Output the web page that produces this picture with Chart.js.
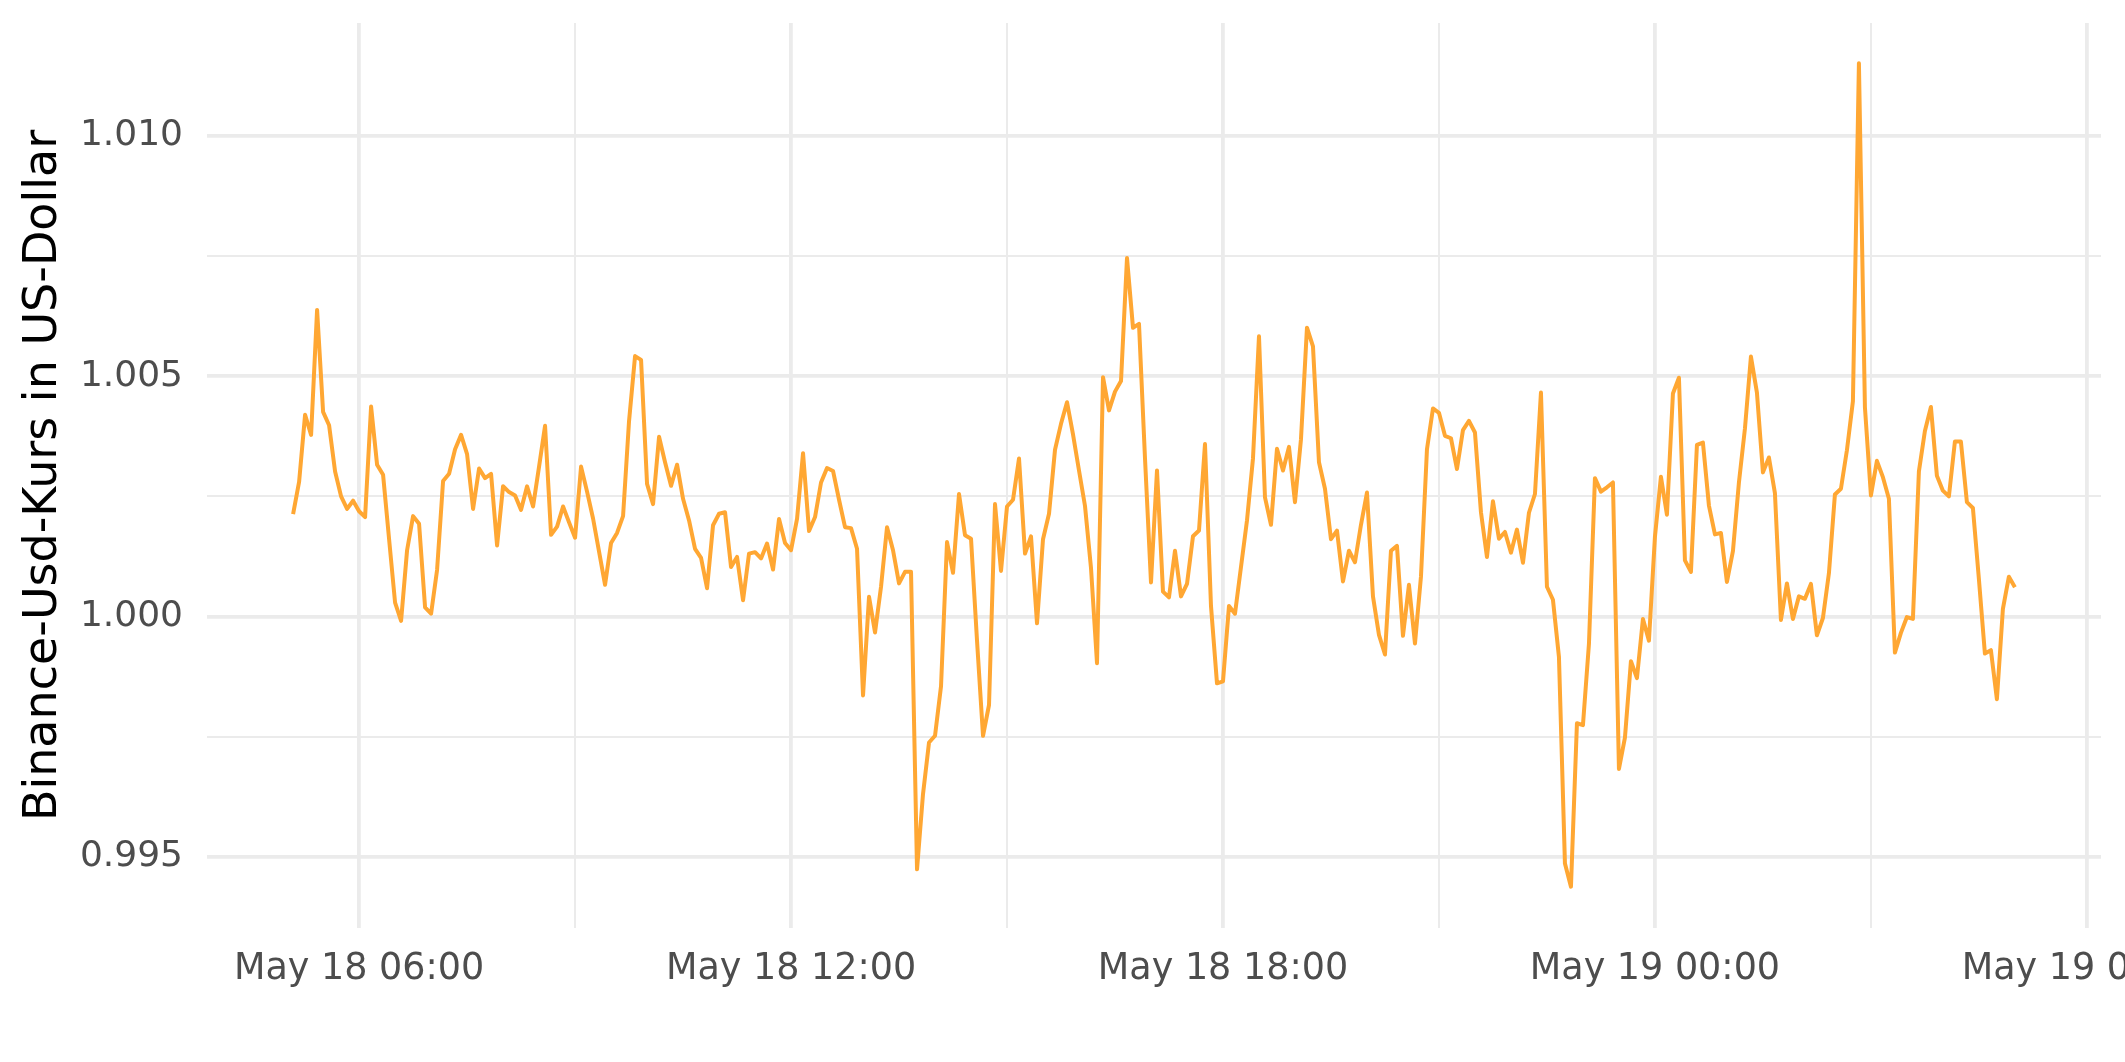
<!DOCTYPE html>
<html><head><meta charset="utf-8">
<script src="https://cdn.jsdelivr.net/npm/chart.js@4.4.0/dist/chart.umd.min.js"></script>
<style>html,body{margin:0;padding:0;background:#fff;}canvas{display:block;}</style>
</head><body>
<canvas id="c" width="2125" height="1062"></canvas>
<script>
// Timestamps ("day hh:mm", May) of each observation
const times = [
"18 05:05","18 05:10","18 05:15","18 05:20","18 05:25","18 05:30","18 05:35","18 05:40","18 05:45","18 05:50","18 05:55",
"18 06:00","18 06:05","18 06:10","18 06:15","18 06:20","18 06:25","18 06:30","18 06:35","18 06:40","18 06:45","18 06:50","18 06:55",
"18 07:00","18 07:05","18 07:10","18 07:15","18 07:20","18 07:25","18 07:30","18 07:35","18 07:40","18 07:45","18 07:50","18 07:55",
"18 08:00","18 08:05","18 08:10","18 08:15","18 08:20","18 08:25","18 08:30","18 08:35","18 08:40","18 08:45","18 08:50","18 08:55",
"18 09:00","18 09:05","18 09:10","18 09:15","18 09:20","18 09:25","18 09:30","18 09:35","18 09:40","18 09:45","18 09:50","18 09:55",
"18 10:00","18 10:05","18 10:10","18 10:15","18 10:20","18 10:25","18 10:30","18 10:35","18 10:40","18 10:45","18 10:50","18 10:55",
"18 11:00","18 11:05","18 11:10","18 11:15","18 11:20","18 11:25","18 11:30","18 11:35","18 11:40","18 11:45","18 11:50","18 11:55",
"18 12:00","18 12:05","18 12:10","18 12:15","18 12:20","18 12:25","18 12:30","18 12:35","18 12:40","18 12:45","18 12:50","18 12:55",
"18 13:00","18 13:05","18 13:10","18 13:15","18 13:20","18 13:25","18 13:30","18 13:35","18 13:40","18 13:45","18 13:50","18 13:55",
"18 14:00","18 14:05","18 14:10","18 14:15","18 14:20","18 14:25","18 14:30","18 14:35","18 14:40","18 14:45","18 14:50","18 14:55",
"18 15:00","18 15:05","18 15:10","18 15:15","18 15:20","18 15:25","18 15:30","18 15:35","18 15:40","18 15:45","18 15:50","18 15:55",
"18 16:00","18 16:05","18 16:10","18 16:15","18 16:20","18 16:25","18 16:30","18 16:35","18 16:40","18 16:45","18 16:50","18 16:55",
"18 17:00","18 17:05","18 17:10","18 17:15","18 17:20","18 17:25","18 17:30","18 17:35","18 17:40","18 17:45","18 17:50","18 17:55",
"18 18:00","18 18:05","18 18:10","18 18:15","18 18:20","18 18:25","18 18:30","18 18:35","18 18:40","18 18:45","18 18:50","18 18:55",
"18 19:00","18 19:05","18 19:10","18 19:15","18 19:20","18 19:25","18 19:30","18 19:35","18 19:40","18 19:45","18 19:50","18 19:55",
"18 20:00","18 20:05","18 20:10","18 20:15","18 20:20","18 20:25","18 20:30","18 20:35","18 20:40","18 20:45","18 20:50","18 20:55",
"18 21:00","18 21:05","18 21:10","18 21:15","18 21:20","18 21:25","18 21:30","18 21:35","18 21:40","18 21:45","18 21:50","18 21:55",
"18 22:00","18 22:05","18 22:10","18 22:15","18 22:20","18 22:25","18 22:30","18 22:35","18 22:40","18 22:45","18 22:50","18 22:55",
"18 23:00","18 23:05","18 23:10","18 23:15","18 23:20","18 23:25","18 23:30","18 23:35","18 23:40","18 23:45","18 23:50","18 23:55",
"19 00:00","19 00:05","19 00:10","19 00:15","19 00:20","19 00:25","19 00:30","19 00:35","19 00:40","19 00:45","19 00:50","19 00:55",
"19 01:00","19 01:05","19 01:10","19 01:15","19 01:20","19 01:25","19 01:30","19 01:35","19 01:40","19 01:45","19 01:50","19 01:55",
"19 02:00","19 02:05","19 02:10","19 02:15","19 02:20","19 02:25","19 02:30","19 02:35","19 02:40","19 02:45","19 02:50","19 02:55",
"19 03:00","19 03:05","19 03:10","19 03:15","19 03:20","19 03:25","19 03:30","19 03:35","19 03:40","19 03:45","19 03:50","19 03:55",
"19 04:00","19 04:05","19 04:10","19 04:15","19 04:20","19 04:25","19 04:30","19 04:35","19 04:40","19 04:45","19 04:50","19 04:55",
"19 05:00"
];

// Binance USD price in US dollars
const rates = [
1.00213,1.00280,1.00420,1.00378,1.00638,1.00426,1.00398,1.00302,1.00250,1.00224,1.00241,
1.00219,1.00207,1.00437,1.00316,1.00295,1.00161,1.00029,0.99991,1.00138,1.00209,1.00193,1.00019,
1.00006,1.00097,1.00282,1.00297,1.00348,1.00378,1.00338,1.00224,1.00308,1.00288,1.00297,1.00148,
1.00271,1.00259,1.00252,1.00222,1.00271,1.00229,1.00312,1.00397,1.00170,1.00187,1.00229,1.00196,
1.00164,1.00312,1.00260,1.00204,1.00135,1.00066,1.00153,1.00174,1.00209,1.00407,1.00542,1.00534,
1.00276,1.00234,1.00374,1.00321,1.00272,1.00316,1.00245,1.00200,1.00141,1.00122,1.00059,1.00190,
1.00214,1.00217,1.00103,1.00124,1.00034,1.00131,1.00134,1.00121,1.00152,1.00098,1.00203,1.00153,
1.00138,1.00203,1.00340,1.00178,1.00207,1.00279,1.00309,1.00303,1.00243,1.00186,1.00184,1.00141,
0.99836,1.00041,0.99967,1.00062,1.00186,1.00138,1.00069,1.00093,1.00093,0.99474,0.99631,0.99738,
0.99752,0.99855,1.00155,1.00091,1.00255,1.00169,1.00162,0.99950,0.99752,0.99816,1.00234,1.00095,
1.00229,1.00243,1.00329,1.00131,1.00167,0.99986,1.00161,1.00214,1.00347,1.00401,1.00446,1.00379,
1.00304,1.00230,1.00101,0.99903,1.00498,1.00429,1.00468,1.00490,1.00746,1.00601,1.00609,1.00329,
1.00071,1.00304,1.00052,1.00040,1.00137,1.00042,1.00068,1.00167,1.00179,1.00359,1.00022,0.99861,
0.99865,1.00022,1.00006,1.00103,1.00200,1.00329,1.00583,1.00248,1.00191,1.00349,1.00304,1.00353,
1.00238,1.00369,1.00601,1.00562,1.00321,1.00266,1.00161,1.00179,1.00073,1.00137,1.00113,1.00191,
1.00258,1.00042,0.99962,0.99921,1.00137,1.00147,0.99960,1.00066,0.99944,1.00083,1.00348,1.00433,
1.00424,1.00376,1.00371,1.00307,1.00388,1.00407,1.00383,1.00217,1.00124,1.00240,1.00162,1.00176,
1.00133,1.00181,1.00112,1.00216,1.00255,1.00466,1.00062,1.00035,0.99916,0.99486,0.99438,0.99778,
0.99774,0.99943,1.00288,1.00260,1.00269,1.00279,0.99683,0.99748,0.99907,0.99872,0.99995,0.99950,
1.00166,1.00291,1.00212,1.00464,1.00497,1.00117,1.00093,1.00357,1.00362,1.00231,1.00171,1.00174,
1.00072,1.00136,1.00279,1.00391,1.00541,1.00466,1.00300,1.00331,1.00257,0.99993,1.00069,0.99995,
1.00042,1.00037,1.00068,0.99961,0.99997,1.00090,1.00254,1.00266,1.00346,1.00448,1.01151,1.00436,
1.00252,1.00324,1.00290,1.00245,0.99925,0.99966,0.99999,0.99995,1.00302,1.00386,1.00436,1.00293,
1.00262,1.00250,1.00364,1.00364,1.00238,1.00226,1.00078,0.99923,0.99930,0.99828,1.00016,1.00083,
1.00061
];

// Axis ticks (x in hours since May 18 00:00)
const xTickHours  = [6, 9, 12, 15, 18, 21, 24, 27, 30];
const xTickLabels = ["May 18 06:00", "", "May 18 12:00", "", "May 18 18:00", "", "May 19 00:00", "", "May 19 06:00"];
const yTickValues = [0.995, 0.9975, 1.0, 1.0025, 1.005, 1.0075, 1.01];
const yTickLabels = ["0.995", "", "1.000", "", "1.005", "", "1.010"];
const yTitle = "Binance-Usd-Kurs in US-Dollar";

function toHours(s) {
  const parts = s.split(" ");
  const hm = parts[1].split(":");
  return (Number(parts[0]) - 18) * 24 + Number(hm[0]) + Number(hm[1]) / 60;
}
const points = times.map((t, i) => ({ x: toHours(t), y: rates[i] }));

const GRID = "#EBEBEB";
const FONT = "'DejaVu Sans', sans-serif";

new Chart(document.getElementById("c"), {
  type: "line",
  data: {
    datasets: [{
      data: points,
      borderColor: "#FFA733",
      borderWidth: 4,
      pointRadius: 0,
      tension: 0,
      fill: false,
      borderJoinStyle: "round",
      borderCapStyle: "butt"
    }]
  },
  options: {
    responsive: false,
    animation: false,
    devicePixelRatio: 1,
    layout: { padding: { top: 23, right: 24, bottom: 0, left: 0 } },
    plugins: { legend: { display: false }, tooltip: { enabled: false } },
    scales: {
      x: {
        type: "linear",
        min: 3.8875,
        max: 30.196,
        afterBuildTicks: (s) => { s.ticks = xTickHours.map(v => ({ value: v })); },
        afterFit: (s) => { s.height = 134; s.paddingLeft = 0; s.paddingRight = 0; },
        border: { display: false },
        grid: {
          drawTicks: false,
          color: GRID,
          lineWidth: (ctx) => (ctx.tick && xTickLabels[ctx.index] !== "" ? 3.8 : 2)
        },
        ticks: {
          autoSkip: false,
          maxRotation: 0,
          minRotation: 0,
          padding: 20,
          color: "#4D4D4D",
          font: { family: FONT, size: 36.5 },
          callback: (v, i) => xTickLabels[i]
        }
      },
      y: {
        type: "linear",
        min: 0.99352,
        max: 1.01235,
        afterBuildTicks: (s) => { s.ticks = yTickValues.map(v => ({ value: v })); },
        afterFit: (s) => { s.width = 207; s.paddingTop = 0; s.paddingBottom = 0; },
        border: { display: false },
        grid: {
          drawTicks: false,
          color: GRID,
          lineWidth: (ctx) => (ctx.tick && yTickLabels[ctx.index] !== "" ? 3.8 : 2)
        },
        ticks: {
          padding: 24,
          color: "#4D4D4D",
          font: { family: FONT, size: 36 },
          callback: (v, i) => yTickLabels[i]
        },
        title: {
          display: true,
          text: yTitle,
          color: "#000000",
          font: { family: FONT, size: 46, lineHeight: 1.2 },
          padding: { top: 16, bottom: 0 }
        }
      }
    }
  }
});
</script>
</body></html>
